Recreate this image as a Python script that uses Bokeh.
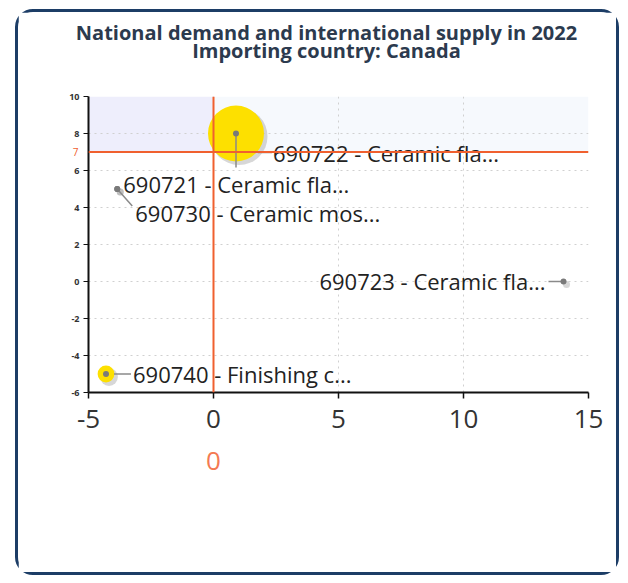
from bokeh.plotting import figure
from bokeh.models import (Span, BoxAnnotation, LinearAxis, FixedTicker,
                          ColumnDataSource, Range1d, Grid, Spacer)
from bokeh.layouts import row, column
from bokeh.core.properties import value
from bokeh.embed import file_html
from bokeh.resources import INLINE
import math

# ---- data ----
title_lines = ["National demand and international supply in 2022",
               "Importing country: Canada"]
codes = ["690722", "690721", "690730", "690723", "690740"]
names = ["Ceramic fla...", "Ceramic fla...", "Ceramic mos...", "Ceramic fla...", "Finishing c..."]
x_vals = [0.9, -3.85, -3.85, 14.0, -4.3]
y_vals = [8.0, 5.0, 5.0, 0.0, -5.0]
volume = [100, 0, 0, 0, 9]
x_ticks = [-5, 0, 5, 10, 15]
y_ticks = [-6, -4, -2, 0, 2, 4, 6, 8, 10]
x_ref = 0
y_ref = 7

# ---- style / layout ----
X0, X1, Y0, Y1 = -5, 15, -6, 10
FW, FH = 500, 296            # frame size in px
ppx = FW / (X1 - X0)
ppy = FH / (Y1 - Y0)
RED = "#f0602f"
FONT = "Open Sans"
label_dx = [37, 6, 18, -18, 27]
label_dy = [19, -5, 24, -1, 0]
label_align = ["left", "left", "left", "right", "left"]
title_pos = 238              # px from frame left
max_r = 28

p = figure(width=604, height=566, output_backend="svg", toolbar_location=None,
           x_range=Range1d(X0, X1), y_range=Range1d(Y0, Y1),
           min_border_left=70, min_border_right=34, min_border_top=84,
           min_border_bottom=186, x_axis_type=None, y_axis_type=None)
p.styles = {"border": "3px solid #1c3d66", "border-radius": "18px"}
p.outline_line_color = None
p.background_fill_color = "white"

# title lines as label-only axes above the frame (line 2 nearest the frame)
p.extra_x_ranges = {"title": Range1d(0, FW)}
for txt, standoff in [(title_lines[1], 33), (title_lines[0], -12)]:
    ta = LinearAxis(x_range_name="title", ticker=FixedTicker(ticks=[title_pos]))
    ta.major_label_overrides = {title_pos: txt}
    ta.axis_line_color = None
    ta.major_tick_line_color = None
    ta.minor_tick_line_color = None
    ta.major_tick_out = 0
    ta.major_label_text_font = FONT
    ta.major_label_text_font_size = "20px"
    ta.major_label_text_font_style = "bold"
    ta.major_label_text_color = "#2c3a4e"
    ta.major_label_standoff = standoff
    p.add_layout(ta, "above")

# quadrant shading
p.add_layout(BoxAnnotation(right=x_ref, bottom=y_ref, fill_color="#eeeefc", fill_alpha=1, line_color=None, level="underlay"))
p.add_layout(BoxAnnotation(left=x_ref, bottom=y_ref, fill_color="#f6f9fd", fill_alpha=1, line_color=None, level="underlay"))

# axes
xa = LinearAxis(ticker=FixedTicker(ticks=x_ticks))
xa.major_label_overrides = {t: str(t) for t in x_ticks}
xa.axis_line_width = 2
xa.axis_line_color = "#111111"
xa.major_tick_line_color = "#111111"
xa.major_tick_line_width = 1.5
xa.major_tick_in = 0
xa.major_tick_out = 6
xa.minor_tick_line_color = None
xa.major_label_text_font = FONT
xa.major_label_text_font_size = "26px"
xa.major_label_text_color = "#333333"
xa.major_label_standoff = 11
p.add_layout(xa, "below")

xa2 = LinearAxis(ticker=FixedTicker(ticks=[x_ref]))
xa2.major_label_overrides = {x_ref: str(x_ref)}
xa2.axis_line_color = None
xa2.major_tick_line_color = None
xa2.minor_tick_line_color = None
xa2.major_label_text_font = FONT
xa2.major_label_text_font_size = "26px"
xa2.major_label_text_color = "#f47a52"
xa2.major_label_standoff = 15
p.add_layout(xa2, "below")

ya = LinearAxis(ticker=FixedTicker(ticks=y_ticks))
ya.major_label_overrides = {t: str(t) for t in y_ticks}
ya.axis_line_width = 2
ya.axis_line_color = "#111111"
ya.major_tick_line_color = "#111111"
ya.major_tick_in = 0
ya.major_tick_out = 5
ya.minor_tick_line_color = None
ya.major_label_text_font = FONT
ya.major_label_text_font_size = "9px"
ya.major_label_text_font_style = "bold"
ya.major_label_text_color = "#333333"
ya.major_label_standoff = 4
p.add_layout(ya, "left")

# red label for the horizontal reference line (label-only axis pulled back in)
ya2 = LinearAxis(ticker=FixedTicker(ticks=[y_ref]))
ya2.major_label_overrides = {y_ref: str(y_ref)}
ya2.axis_line_color = None
ya2.major_tick_line_color = None
ya2.minor_tick_line_color = None
ya2.major_tick_out = 0
ya2.major_label_text_font = FONT
ya2.major_label_text_font_size = "10px"
ya2.major_label_text_color = RED
ya2.major_label_standoff = -12
p.add_layout(ya2, "left")

# grid
gx = Grid(dimension=0, ticker=FixedTicker(ticks=x_ticks), grid_line_color="#d0d0d0",
          grid_line_dash="dotted", grid_line_width=1)
gy = Grid(dimension=1, ticker=FixedTicker(ticks=y_ticks), grid_line_color="#d0d0d0",
          grid_line_dash="dotted", grid_line_width=1)
p.add_layout(gx)
p.add_layout(gy)

# reference lines
p.add_layout(Span(location=y_ref, dimension="width", line_color=RED, line_width=2))
p.add_layout(Span(location=x_ref, dimension="height", line_color=RED, line_width=2))

# bubbles
vmax = max(volume)
radius = [max_r * math.sqrt(v / vmax) for v in volume]
size = [2 * r for r in radius]
src = ColumnDataSource(dict(x=x_vals, y=y_vals, size=size,
                            sx=[x + 3 / ppx for x in x_vals],
                            sy=[y - 3 / ppy for y in y_vals],
                            ssize=[s + 1 if s > 0 else 7 for s in size],
                            label=[f"{c} - {n}" for c, n in zip(codes, names)],
                            dx=label_dx, dy=label_dy, align=label_align))

# shadows
p.scatter("sx", "sy", size="ssize", source=src, fill_color="#9a9a9a", fill_alpha=0.4,
          line_color=None)
p.scatter("x", "y", size="size", source=src, fill_color="#fde000", line_color=None)

# leader lines (pixel offsets converted to data units)
lead_x0, lead_y0, lead_x1, lead_y1 = [], [], [], []
def add_lead(i, a, b, c, d):
    lead_x0.append(x_vals[i] + a / ppx); lead_y0.append(y_vals[i] - b / ppy)
    lead_x1.append(x_vals[i] + c / ppx); lead_y1.append(y_vals[i] - d / ppy)
add_lead(0, 0, 0, 0, 34)
add_lead(0, 22, 19, 36, 19)
add_lead(2, 0, 0, 15, 17)
add_lead(1, -2, -2, 0, 0)
add_lead(3, -15, 0, 0, 0)
add_lead(4, 8, 0, 25, 0)
p.segment(lead_x0, lead_y0, lead_x1, lead_y1, line_color="#8a8a8a", line_width=1.5)

p.scatter("x", "y", size=6, source=src, fill_color="#7a7a7a", line_color=None)

p.text("x", "y", text="label", source=src, x_offset="dx", y_offset="dy",
       text_align="align", text_baseline="middle", text_font=value(FONT),
       text_font_size="22px", text_color="#222222")

layout = column(Spacer(height=9), row(Spacer(width=15), p))
open("out.html", "w").write(file_html(layout, INLINE))
